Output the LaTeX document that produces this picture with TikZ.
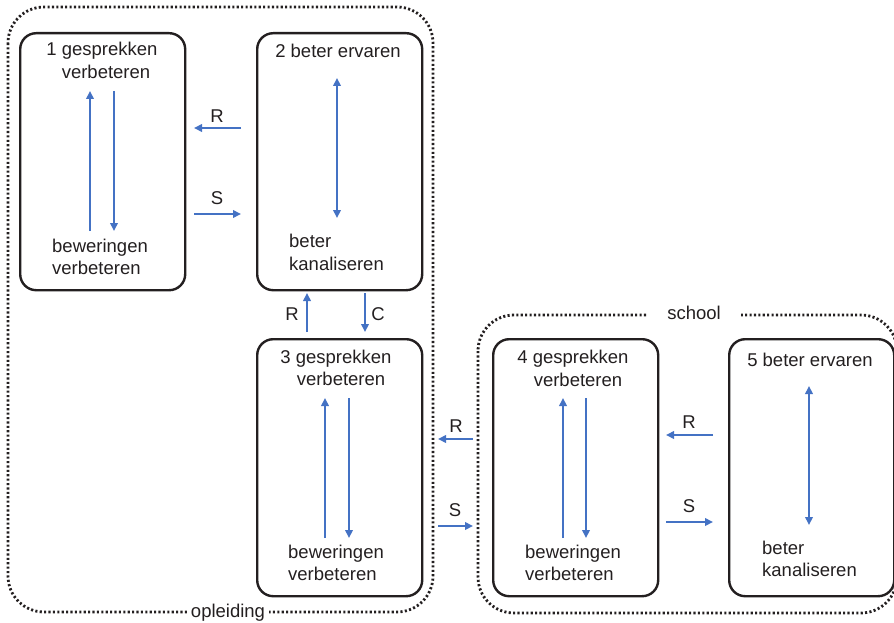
\documentclass[tikz,border=0pt]{standalone}
\usepackage{fontspec}
\setmainfont{Liberation Sans}
\usetikzlibrary{arrows.meta}
\definecolor{flow}{RGB}{68,114,196}
\definecolor{ink}{RGB}{35,31,32}
\begin{document}
\begin{tikzpicture}[x=1pt,y=-1pt,
  stage/.style={draw=ink, line width=2.4pt, rounded corners=16pt,
    minimum width=165pt, minimum height=257pt, anchor=north west, inner sep=0pt},
  txt/.style={font=\fontsize{18.5}{23}\selectfont, text=ink, inner sep=0pt},
  ctr/.style={txt, anchor=base},
  lft/.style={txt, anchor=base west},
  lbl/.style={txt},
  tip/.tip={Triangle[length=8pt,width=7.5pt]},
  flowline/.style={draw=flow, line width=2.3pt, -tip},
  twoway/.style={draw=flow, line width=2.3pt, tip-tip},
  zone/.style={draw=ink, line width=2.8pt, dash pattern=on 2.1pt off 2.3pt, rounded corners=36pt},
  zonelabel/.style={txt, anchor=base, fill=white, inner ysep=3pt}]
\useasboundingbox (0,0) rectangle (894,623);

% dotted zones
\draw[zone] (8,7) rectangle (433,612);
\draw[zone] (478,315) rectangle (897,613);
\node[zonelabel, inner xsep=4pt] (opl) at (228,617) {opleiding};
\node[zonelabel, inner xsep=20pt] (sch) at (694,319) {school};

% stage boxes
\node[stage] (b1) at (19,32) {};
\node[stage] (b2) at (256,32) {};
\node[stage] (b3) at (256,338) {};
\node[stage] (b4) at (492,338) {};
\node[stage] (b5) at (728,338) {};

% box 1
\node[ctr] (t1a) at (102,56) {1 gesprekken};
\node[ctr] (t1b) at (106,79) {verbeteren};
\node[lft] (t1c) at (52,252) {beweringen};
\node[lft] (t1d) at (52,274) {verbeteren};
\coordinate (u1t) at (90,91);  \coordinate (u1b) at (90,231);
\coordinate (d1t) at (114,91); \coordinate (d1b) at (114,231);
\draw[flowline] (u1b) -- (u1t);
\draw[flowline] (d1t) -- (d1b);

% box 2
\node[ctr] (t2a) at (338,58) {2 beter ervaren};
\node[lft] (t2b) at (289,247) {beter};
\node[lft] (t2c) at (289,270) {kanaliseren};
\coordinate (v2t) at (337,78); \coordinate (v2b) at (337,218);
\draw[twoway] (v2t) -- (v2b);

% box 3
\node[ctr] (t3a) at (336,363) {3 gesprekken};
\node[ctr] (t3b) at (341,385) {verbeteren};
\node[lft] (t3c) at (288,558) {beweringen};
\node[lft] (t3d) at (288,580) {verbeteren};
\coordinate (u3t) at (325,398); \coordinate (u3b) at (325,538);
\coordinate (d3t) at (349,398); \coordinate (d3b) at (349,538);
\draw[flowline] (u3b) -- (u3t);
\draw[flowline] (d3t) -- (d3b);

% box 4
\node[ctr] (t4a) at (573,363) {4 gesprekken};
\node[ctr] (t4b) at (578,386) {verbeteren};
\node[lft] (t4c) at (525,558) {beweringen};
\node[lft] (t4d) at (525,580) {verbeteren};
\coordinate (u4t) at (563,398); \coordinate (u4b) at (563,538);
\coordinate (d4t) at (586,398); \coordinate (d4b) at (586,538);
\draw[flowline] (u4b) -- (u4t);
\draw[flowline] (d4t) -- (d4b);

% box 5
\node[ctr] (t5a) at (810,366) {5 beter ervaren};
\node[lft] (t5b) at (762,554) {beter};
\node[lft] (t5c) at (762,576) {kanaliseren};
\coordinate (v5t) at (809,386); \coordinate (v5b) at (809,525);
\draw[twoway] (v5t) -- (v5b);

% links between 1 and 2
\coordinate (r12a) at (241,128); \coordinate (r12b) at (194,128);
\coordinate (s12a) at (194,214); \coordinate (s12b) at (241,214);
\draw[flowline] (r12a) -- (r12b);
\draw[flowline] (s12a) -- (s12b);
\node[lbl] (lr12) at (217,116) {R};
\node[lbl] (ls12) at (217,198) {S};

% links between 2 and 3
\coordinate (r23a) at (307,332); \coordinate (r23b) at (307,293);
\coordinate (c23a) at (365,293); \coordinate (c23b) at (365,332);
\draw[flowline] (r23a) -- (r23b);
\draw[flowline] (c23a) -- (c23b);
\node[lbl] (lr23) at (292,314) {R};
\node[lbl] (lc23) at (378,314) {C};

% links between 3 and 4
\coordinate (r34a) at (473,439); \coordinate (r34b) at (438,439);
\coordinate (s34a) at (438,526); \coordinate (s34b) at (473,526);
\draw[flowline] (r34a) -- (r34b);
\draw[flowline] (s34a) -- (s34b);
\node[lbl] (lr34) at (456,426) {R};
\node[lbl] (ls34) at (455,510) {S};

% links between 4 and 5
\coordinate (r45a) at (713,435); \coordinate (r45b) at (666,435);
\coordinate (s45a) at (666,522); \coordinate (s45b) at (713,522);
\draw[flowline] (r45a) -- (r45b);
\draw[flowline] (s45a) -- (s45b);
\node[lbl] (lr45) at (689,422) {R};
\node[lbl] (ls45) at (689,506) {S};
\end{tikzpicture}
\end{document}
